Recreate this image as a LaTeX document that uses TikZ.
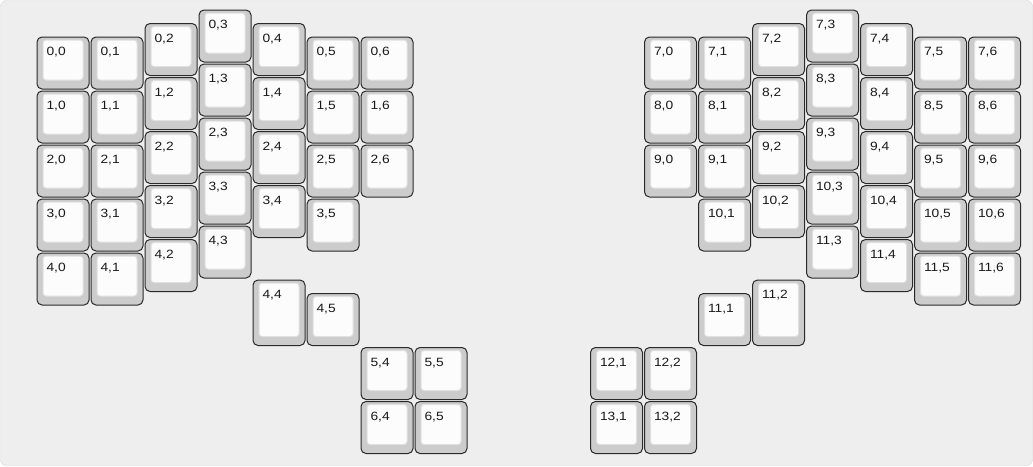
\documentclass[tikz,border=0pt]{standalone}
\usepackage{fontspec}
\newfontfamily\keyfont[FakeStretch=1.15]{Liberation Sans}

\definecolor{plate}{HTML}{EEEEEE}
\definecolor{plateline}{HTML}{D6D6D6}
\definecolor{capside}{HTML}{CCCCCC}
\definecolor{capedge}{HTML}{2A2A2A}
\definecolor{captop}{HTML}{FCFCFC}
\definecolor{captopline}{HTML}{E0E0E0}

\tikzset{
  capbody/.style={fill=capside, draw=capedge, line width=1pt, rounded corners=5pt},
  captopface/.style={fill=captop, draw=captopline, line width=1pt, rounded corners=3pt},
  caplabel/.style={inner sep=0pt, anchor=base west, text=black!90,
                   font=\keyfont\fontsize{12}{14}\selectfont},
}

% #1 height in units, #2 column, #3 row (units), #4 #5 label
\newcommand{\kbkey}[5][1]{%
  \pgfmathsetmacro\kx{9+54*(#2)}%
  \pgfmathsetmacro\ky{9+54*(#3)}%
  \pgfmathsetmacro\kh{54*(#1)}%
  \draw[capbody] (\kx+1,\ky+1) rectangle (\kx+53,\ky+\kh-1);
  \draw[captopface] (\kx+7,\ky+4) rectangle (\kx+47,\ky+\kh-10);
  \node[caplabel] (key-#4-#5) at (\kx+10.3,\ky+19.5) {#4,#5};
}

\begin{document}
\begin{tikzpicture}[x=1pt, y=-1pt]

    %% plate
    \useasboundingbox (0,0) rectangle (1033,466);
    \draw[fill=plate, draw=plateline, rounded corners=6pt] (0.5,0.5) rectangle (1032.5,465.5);

    %% left half
    \foreach \c/\off/\n/\lab in {0.5/0.5/4/0, 1.5/0.5/4/1, 2.5/0.25/4/2, 3.5/0/4/3,
                                 4.5/0.25/3/4, 5.5/0.5/3/5, 6.5/0.5/2/6}
      \foreach \r in {0,...,\n}
        \kbkey{\c}{\off+\r}{\r}{\lab};

    %% left thumb cluster
    \kbkey[1.25]{4.5}{5}{4}{4}
    \kbkey{5.5}{5.25}{4}{5}
    \kbkey{6.5}{6.25}{5}{4}
    \kbkey{7.5}{6.25}{5}{5}
    \kbkey{6.5}{7.25}{6}{4}
    \kbkey{7.5}{7.25}{6}{5}

    %% right half (rows numbered from 7)
    \foreach \c/\off/\n/\lab in {11.75/0.5/2/0, 12.75/0.5/3/1, 13.75/0.25/3/2, 14.75/0/4/3,
                                 15.75/0.25/4/4, 16.75/0.5/4/5, 17.75/0.5/4/6}
      \foreach \r in {0,...,\n}{
        \pgfmathtruncatemacro\lr{7+\r}
        \kbkey{\c}{\off+\r}{\lr}{\lab}
      }

    %% right thumb cluster
    \kbkey{12.75}{5.25}{11}{1}
    \kbkey[1.25]{13.75}{5}{11}{2}
    \kbkey{10.75}{6.25}{12}{1}
    \kbkey{11.75}{6.25}{12}{2}
    \kbkey{10.75}{7.25}{13}{1}
    \kbkey{11.75}{7.25}{13}{2}

\end{tikzpicture}
\end{document}
